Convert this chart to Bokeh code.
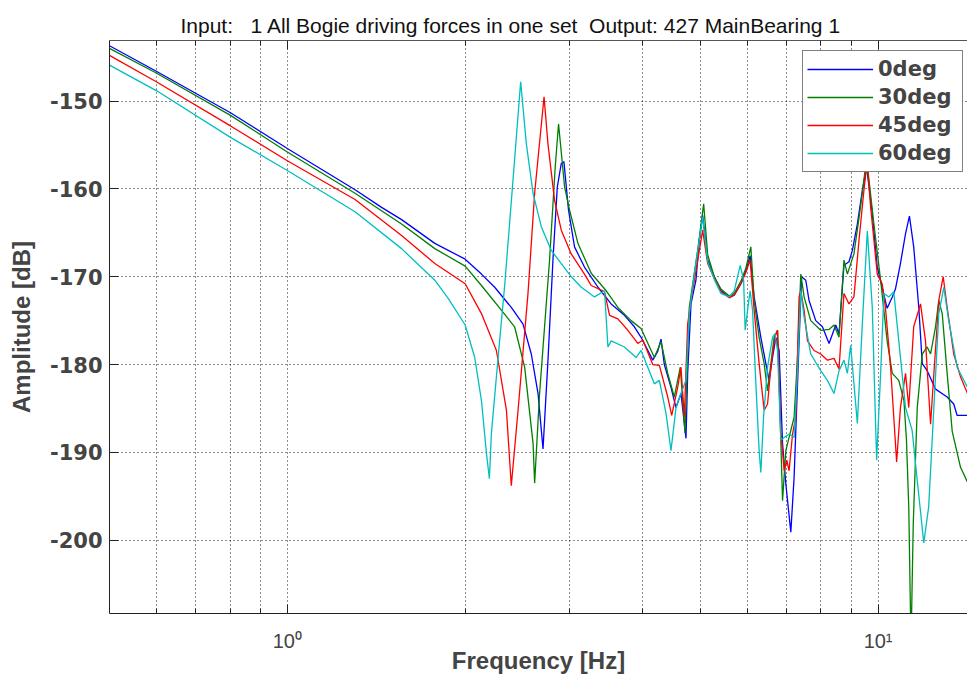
from bokeh.plotting import figure
from bokeh.models import FixedTicker, LogAxis, Range1d, Title, Legend, LegendItem
from bokeh.embed import file_html
from bokeh.resources import INLINE

# ---- data (frequency [Hz], amplitude [dB]) ----
freq_0 = [0.5, 0.6, 0.8, 1.0, 1.302, 1.444, 1.561, 1.777, 2.0, 2.131, 2.244, 2.394, 2.506, 2.588, 2.657, 2.709,
          2.762, 2.816, 2.864, 2.909, 2.939, 2.992, 3.063, 3.184, 3.356, 3.533, 3.721, 3.868, 3.970, 4.155,
          4.236, 4.291, 4.347, 4.461, 4.549, 4.638, 4.730, 4.761, 4.823, 4.917, 4.981, 5.047, 5.147, 5.281,
          5.420, 5.598, 5.708, 5.859, 5.974, 6.073, 6.169, 6.332, 6.457, 6.540, 6.628, 6.714, 6.800, 6.891,
          6.980, 7.117, 7.209, 7.305, 7.420, 7.544, 7.641, 7.843, 8.050, 8.260, 8.479, 8.588, 8.755, 8.928,
          9.046, 9.224, 9.404, 9.562, 9.777, 9.968, 10.16, 10.36, 10.57, 10.70, 10.91, 11.13, 11.30, 11.49,
          11.72, 11.88, 12.11, 12.51, 13.09, 13.43, 13.61, 14.17]
amp_0 = [-143.7, -146.6, -151.3, -155.4, -160.1, -162.1, -163.5, -166.2, -168.0, -169.7, -171.2, -173.5, -175.4, -178.8,
         -183.3, -189.6, -179.5, -168.1, -159.8, -157.1, -156.9, -162.4, -166.6, -168.9, -171.2, -173.1, -174.4,
         -175.7, -176.9, -179.5, -178.5, -177.1, -180.0, -182.6, -184.9, -183.3, -188.4, -181.0, -173.1, -170.4,
         -165.9, -163.0, -168.1, -170.0, -171.6, -172.3, -172.1, -170.8, -169.3, -167.6, -172.3, -176.9, -179.9,
         -181.8, -179.2, -176.9, -178.4, -189.0, -193.6, -199.1, -192.8, -182.2, -170.0, -170.4, -172.7, -175.0,
         -175.7, -177.6, -175.5, -176.5, -168.7, -168.3, -167.0, -164.0, -160.2, -157.5, -162.8, -168.9, -171.2,
         -173.6, -172.3, -171.4, -168.5, -165.1, -163.1, -166.6, -173.5, -179.9, -180.7, -182.8, -183.7, -184.5,
         -185.8, -185.8]

freq_30 = [0.5, 0.6, 0.8, 1.0, 1.302, 1.561, 1.777, 2.0, 2.131, 2.303, 2.425, 2.522, 2.606, 2.622, 2.673, 2.779,
           2.841, 2.878, 2.947, 3.004, 3.104, 3.269, 3.466, 3.627, 3.819, 3.970, 4.181, 4.291, 4.405, 4.519,
           4.626, 4.711, 4.791, 4.950, 5.067, 5.147, 5.281, 5.420, 5.598, 5.708, 5.859, 5.974, 6.090, 6.169,
           6.290, 6.414, 6.500, 6.584, 6.669, 6.758, 6.827, 6.891, 6.980, 7.069, 7.209, 7.305, 7.399, 7.495,
           7.691, 7.997, 8.260, 8.422, 8.588, 8.755, 8.872, 9.102, 9.342, 9.562, 9.838, 10.10, 10.36, 10.57,
           10.84, 11.06, 11.17, 11.27, 11.37, 11.47, 11.65, 11.88, 12.11, 12.27, 12.51, 12.67, 12.84, 13.09,
           13.35, 13.79, 14.17]
amp_30 = [-144.0, -146.8, -151.6, -155.8, -160.5, -164.0, -166.8, -168.8, -171.0, -173.8, -175.7, -180.3, -189.0, -193.5,
          -183.3, -168.1, -157.5, -152.6, -159.8, -162.4, -166.2, -169.6, -171.6, -173.5, -175.0, -175.9, -179.2,
          -177.4, -181.0, -183.7, -180.3, -187.8, -173.5, -167.0, -161.7, -167.5, -170.0, -171.4, -172.2, -171.9,
          -170.5, -169.0, -166.6, -172.7, -176.9, -179.9, -183.0, -179.9, -176.9, -176.1, -186.0, -195.5, -189.8,
          -188.3, -186.0, -179.2, -169.7, -172.3, -175.0, -176.1, -176.0, -175.5, -176.9, -168.1, -169.7, -167.4,
          -162.0, -156.5, -164.0, -170.4, -177.3, -181.0, -181.8, -184.1, -188.6, -196.2, -212.0, -198.1, -184.9,
          -178.8, -178.0, -178.8, -175.7, -172.7, -174.2, -181.0, -187.6, -191.7, -193.4]

freq_45 = [0.5, 0.6, 0.8, 1.0, 1.302, 1.561, 1.777, 2.0, 2.131, 2.259, 2.349, 2.394, 2.458, 2.555, 2.622, 2.720,
           2.762, 2.834, 2.909, 3.024, 3.184, 3.269, 3.443, 3.511, 3.627, 3.771, 3.920, 3.997, 4.155, 4.263,
           4.405, 4.474, 4.579, 4.638, 4.699, 4.761, 4.823, 5.014, 5.047, 5.147, 5.281, 5.420, 5.598, 5.708,
           5.859, 5.974, 6.073, 6.169, 6.290, 6.414, 6.500, 6.584, 6.688, 6.758, 6.845, 6.934, 7.006, 7.069,
           7.165, 7.256, 7.350, 7.399, 7.495, 7.594, 7.791, 7.997, 8.209, 8.422, 8.588, 8.755, 8.928, 9.102,
           9.282, 9.462, 9.581, 9.712, 9.968, 10.16, 10.29, 10.50, 10.75, 10.91, 11.13, 11.27, 11.49, 11.80,
           12.03, 12.27, 12.43, 12.67, 12.89, 13.09, 13.43, 13.79, 14.17]
amp_45 = [-144.8, -147.8, -152.8, -156.8, -161.2, -165.3, -168.5, -170.8, -174.2, -178.4, -185.2, -193.8, -185.2, -171.9,
          -160.5, -149.5, -154.9, -161.3, -164.7, -167.4, -169.7, -171.0, -171.7, -174.4, -174.8, -176.1, -177.6,
          -177.2, -180.0, -180.1, -183.7, -185.8, -182.6, -180.3, -186.0, -175.4, -172.7, -165.9, -164.7, -168.5,
          -170.2, -171.7, -172.4, -172.1, -170.8, -169.5, -168.1, -173.8, -179.9, -185.2, -184.5, -180.3, -176.9,
          -176.1, -187.5, -192.1, -190.9, -192.1, -187.9, -186.0, -172.3, -171.6, -173.8, -177.3, -178.4, -178.8,
          -179.5, -179.3, -180.5, -171.9, -173.1, -172.3, -165.9, -160.2, -157.0, -162.0, -169.7, -170.8, -173.5,
          -180.3, -191.1, -184.9, -181.0, -184.9, -175.7, -173.1, -177.3, -186.8, -181.0, -172.7, -170.0, -173.5,
          -178.8, -181.4, -183.3]

freq_60 = [0.5, 0.6, 0.8, 1.0, 1.302, 1.561, 1.777, 1.873, 2.0, 2.076, 2.131, 2.173, 2.198, 2.215, 2.274, 2.333,
           2.410, 2.483, 2.539, 2.606, 2.691, 2.798, 2.909, 3.024, 3.145, 3.311, 3.443, 3.489, 3.533, 3.721,
           3.894, 3.970, 4.181, 4.263, 4.376, 4.461, 4.549, 4.638, 4.730, 4.791, 4.885, 5.047, 5.147, 5.281,
           5.420, 5.598, 5.708, 5.843, 5.921, 5.957, 6.013, 6.073, 6.131, 6.210, 6.290, 6.332, 6.399, 6.500,
           6.628, 6.688, 6.758, 6.845, 6.934, 7.069, 7.209, 7.305, 7.399, 7.495, 7.691, 7.997, 8.209, 8.422,
           8.588, 8.755, 8.872, 8.986, 9.224, 9.404, 9.589, 9.777, 9.943, 10.10, 10.23, 10.43, 10.63, 10.84,
           11.13, 11.42, 11.65, 11.95, 12.18, 12.43, 12.67, 12.92, 13.17, 13.61, 14.17]
amp_60 = [-145.9, -148.8, -154.1, -157.9, -162.6, -166.8, -170.4, -172.5, -175.5, -179.2, -184.1, -190.1, -193.0, -187.9,
          -179.2, -171.0, -159.0, -147.8, -154.9, -160.5, -164.3, -167.0, -168.5, -170.0, -171.2, -172.3, -171.6,
          -178.0, -177.3, -178.0, -179.2, -178.4, -182.2, -181.8, -185.6, -189.8, -184.9, -183.3, -181.8, -174.2,
          -169.7, -163.2, -168.3, -170.3, -171.9, -172.3, -171.6, -168.7, -170.4, -176.1, -173.8, -171.6, -173.8,
          -182.2, -189.8, -192.3, -186.0, -180.3, -176.9, -176.5, -178.4, -188.6, -188.3, -187.9, -188.3, -180.7,
          -171.6, -174.6, -178.8, -180.7, -181.8, -183.3, -180.7, -179.5, -181.0, -177.8, -186.7, -175.4, -164.8,
          -173.5, -190.9, -181.0, -171.9, -172.3, -171.7, -177.3, -184.9, -187.5, -193.2, -200.3, -196.2, -184.9,
          -174.2, -171.2, -175.0, -180.3, -182.6]

series_names = ["0deg", "30deg", "45deg", "60deg"]
series_colors = ["#0000FF", "#008000", "#FF0000", "#00BFBF"]
x_major_ticks = [1, 10]
x_minor_ticks = [0.6, 0.7, 0.8, 0.9, 2, 3, 4, 5, 6, 7, 8, 9]
x_tick_labels = {1: "10\u2070", 10: "10\u00b9"}
y_ticks = [-200, -190, -180, -170, -160, -150]
y_tick_labels = {t: str(t) for t in y_ticks}

title_text = "Input:\u00a0\u00a0 1 All Bogie driving forces in one set\u00a0 Output: 427 MainBearing 1"

p = figure(width=967, height=677, x_axis_type="log",
           x_range=Range1d(0.5, 14.17), y_range=Range1d(-208.35, -143.1),
           output_backend="svg", toolbar_location=None, title=None,
           min_border_left=109, min_border_right=0, min_border_top=40, min_border_bottom=64,
           background_fill_color="white", border_fill_color="white")
p.outline_line_color = None

ax = p.below[0]
ay = p.left[0]

# top axis (ticks only), nearest to the frame
top = LogAxis(ticker=FixedTicker(ticks=x_major_ticks, minor_ticks=x_minor_ticks),
              major_label_text_font_size="2px", major_label_text_color=None,
              major_tick_in=9, major_tick_out=0,
              minor_tick_in=5, minor_tick_out=0, axis_line_color="#555555",
              major_tick_line_color="#222222", minor_tick_line_color="#222222",
              major_label_standoff=0)
p.add_layout(top, "above")

title = Title(text=title_text, align="left", offset=71, text_font="Liberation Sans",
              text_font_size="21px", text_font_style="normal", text_color="#111111",
              standoff=8)
p.add_layout(title, "above")

# curves
renderers = []
all_f = [freq_0, freq_30, freq_45, freq_60]
all_a = [amp_0, amp_30, amp_45, amp_60]
for f, a, c in zip(all_f, all_a, series_colors):
    r = p.line(f, a, line_color=c, line_width=1.3)
    renderers.append(r)

# bottom axis
ax.ticker = FixedTicker(ticks=x_major_ticks, minor_ticks=x_minor_ticks)
ax.major_label_overrides = x_tick_labels
ax.major_label_text_font = "Liberation Sans"
ax.major_label_text_font_size = "20px"
ax.major_label_standoff = 16
ax.major_tick_in = 9
ax.major_tick_out = 0
ax.minor_tick_in = 5
ax.minor_tick_out = 0
ax.axis_line_color = "#222222"
ax.major_tick_line_color = "#222222"
ax.minor_tick_line_color = "#222222"
ax.axis_label = "Frequency [Hz]"
ax.axis_label_text_font = "Liberation Sans"
ax.axis_label_text_font_size = "24px"
ax.axis_label_text_font_style = "bold"
ax.axis_label_standoff = -8

# left axis
ay.ticker = FixedTicker(ticks=y_ticks)
ay.major_label_overrides = y_tick_labels
ay.major_label_text_font = "DejaVu Sans"
ay.major_label_text_font_style = "bold"
ay.major_label_text_font_size = "21px"
ay.major_label_standoff = 7
ay.major_tick_in = 9
ay.major_tick_out = 0
ay.minor_tick_line_color = None
ay.axis_line_color = "#222222"
ay.major_tick_line_color = "#222222"
ay.axis_label = "Amplitude [dB]"
ay.axis_label_text_font = "Liberation Sans"
ay.axis_label_text_font_size = "24px"
ay.axis_label_text_font_style = "bold"
ay.axis_label_standoff = 12

# grid
p.xgrid.ticker = FixedTicker(ticks=x_major_ticks, minor_ticks=x_minor_ticks)
p.xgrid.grid_line_color = "#000000"
p.xgrid.grid_line_dash = "1 3"
p.xgrid.grid_line_alpha = 0.9
p.xgrid.minor_grid_line_color = "#000000"
p.xgrid.minor_grid_line_dash = "1 3"
p.xgrid.minor_grid_line_alpha = 0.9
p.ygrid.ticker = FixedTicker(ticks=y_ticks)
p.ygrid.grid_line_color = "#000000"
p.ygrid.grid_line_dash = "1 3"
p.ygrid.grid_line_alpha = 0.9

# legend
items = [LegendItem(label=n, renderers=[r]) for n, r in zip(series_names, renderers)]
legend = Legend(items=items, location=(693, 441), orientation="vertical",
                label_text_font="DejaVu Sans", label_text_font_style="bold",
                label_text_font_size="21px", label_standoff=5, label_width=80,
                label_height=28, glyph_width=66, glyph_height=28, spacing=0,
                padding=4, margin=0, border_line_color="#000000", border_line_width=1.2,
                background_fill_color="white", background_fill_alpha=1.0)
p.add_layout(legend, "center")

open("out.html", "w").write(file_html(p, INLINE))
